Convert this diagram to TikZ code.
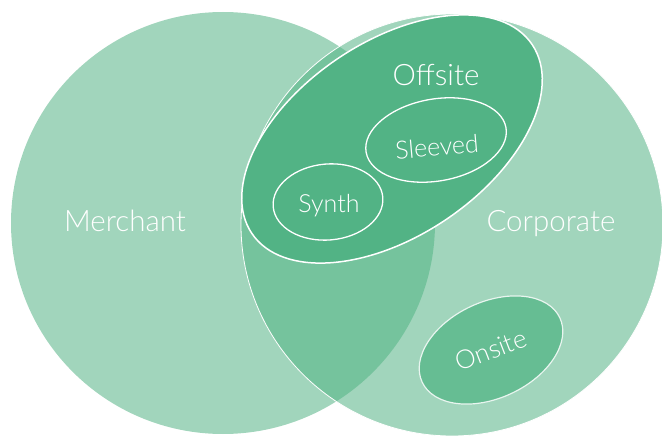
\documentclass[tikz,border=0pt]{standalone}
\usepackage{fontspec}
\setmainfont{Lato Light}
\definecolor{lightg}{HTML}{A1D5BC}
\definecolor{lensg}{HTML}{75C39D}
\definecolor{offg}{HTML}{52B385}
\definecolor{onsg}{HTML}{66BD93}
\tikzset{
  biglbl/.style={text=white, inner sep=0pt, font=\fontsize{29.5}{34}\selectfont},
  smalllbl/.style={text=white, inner sep=0pt, font=\fontsize{25}{29}\selectfont},
  ringline/.style={draw=white, line width=1.5pt},
}
\begin{document}
\begin{tikzpicture}[x=1pt,y=-1pt]
\useasboundingbox (0,0) rectangle (662,436);
\coordinate (mc) at (223,223);
\coordinate (cc) at (452,225);
\coordinate (oc) at (392,139);
\coordinate (sc) at (436,140);
\coordinate (yc) at (328,202);
\coordinate (nc) at (491,350);
% merchant and corporate
\fill[lightg] (mc) ellipse [x radius=212, y radius=211];
\fill[lightg] (cc) ellipse [x radius=211, y radius=211];
\begin{scope}
  \clip (mc) ellipse [x radius=212, y radius=211];
  \fill[lensg] (cc) ellipse [x radius=211, y radius=211];
\end{scope}
\draw[white, line width=0.8pt] (cc) ellipse [x radius=211, y radius=211];
% offsite
\fill[offg, rotate around={34:(oc)}] (oc) ellipse [x radius=169, y radius=97];
\draw[ringline, rotate around={34:(oc)}] (oc) ellipse [x radius=169, y radius=97];
% sleeved and synth
\draw[ringline, line width=1.3pt, rotate around={10:(sc)}] (sc) ellipse [x radius=71, y radius=41];
\draw[ringline, line width=1.3pt, rotate around={5:(yc)}] (yc) ellipse [x radius=55, y radius=38];
% onsite
\fill[onsg, rotate around={25:(nc)}] (nc) ellipse [x radius=76, y radius=48];
\draw[white!85!onsg, line width=1.2pt, rotate around={25:(nc)}] (nc) ellipse [x radius=76, y radius=48];
% labels
\node[biglbl, anchor=base] (merchant) at (125,231) {Merchant};
\node[biglbl, anchor=base] (corporate) at (551,231) {Corporate};
\node[biglbl, anchor=base] (offsite) at (436,86) {Offsite};
\node[smalllbl, rotate=5] (sleeved) at (437,147) {Sleeved};
\node[smalllbl, anchor=base] (synth) at (329,212) {Synth};
\node[smalllbl, rotate=21, font=\fontsize{26}{30}\selectfont] (onsite) at (491,350) {Onsite};
\end{tikzpicture}
\end{document}
